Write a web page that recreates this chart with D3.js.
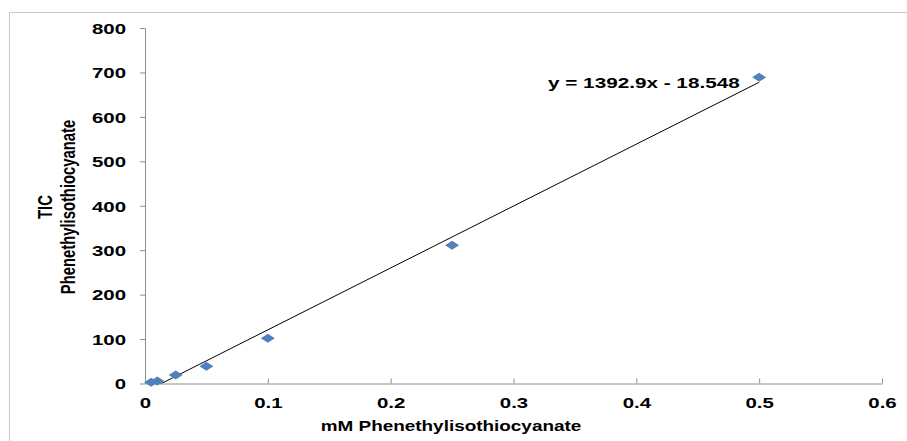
<!DOCTYPE html>
<html>
<head>
<meta charset="utf-8">
<script src="https://cdn.jsdelivr.net/npm/d3@7"></script>
<style>
  body { margin: 0; background: #fff; }
  text { font-family: "Liberation Sans", Arial, sans-serif; font-weight: bold; fill: #000; }
</style>
</head>
<body>
<svg id="chart" width="907" height="441"></svg>
<script>
// data
const concentrations = [0.005, 0.01, 0.025, 0.05, 0.1, 0.25, 0.5];
const ticValues = [3, 5.5, 19, 39, 102, 311, 689];
const xTickValues = [0, 0.1, 0.2, 0.3, 0.4, 0.5, 0.6];
const yTickValues = [0, 100, 200, 300, 400, 500, 600, 700, 800];
const slope = 1392.9;
const intercept = -18.548;
const equationText = "y = 1392.9x - 18.548";
const xTitle = "mM Phenethylisothiocyanate";
const yTitleLines = ["TIC", "Phenethylisothiocyanate"];

const width = 907, height = 441;
const margin = { top: 28, right: 25, bottom: 57.5, left: 145 };
const plotW = width - margin.left - margin.right;
const plotH = height - margin.top - margin.bottom;
const axisColor = "#8e8e8e";
const stretch = 1.38; // the source image is wider than tall

const svg = d3.select("#chart");

// outer chart frame (cut off at right and bottom)
svg.append("rect")
  .attr("x", 9.5).attr("y", 12.5)
  .attr("width", 1200).attr("height", 1200)
  .attr("fill", "none").attr("stroke", "#c8c8c8");

const g = svg.append("g").attr("transform", `translate(${margin.left},${margin.top})`);

const x = d3.scaleLinear().domain([0, 0.6]).range([0, plotW]);
const y = d3.scaleLinear().domain([0, 800]).range([plotH, 0]);

// axes
const xAxis = d3.axisBottom(x).tickValues(xTickValues).tickSizeInner(-5).tickSizeOuter(0)
  .tickFormat(d => d === 0 ? "0" : d3.format(".1f")(d));
const xg = g.append("g").attr("transform", `translate(0,${plotH})`).call(xAxis);
xg.select(".domain").attr("stroke", axisColor);
xg.selectAll(".tick line").attr("stroke", axisColor);
xg.selectAll(".tick text")
  .attr("y", 0).attr("dy", null)
  .attr("transform", `translate(0,24.5) scale(${stretch},1)`)
  .style("font-size", "14.8px");

const yAxis = d3.axisLeft(y).tickValues(yTickValues).tickSizeInner(5).tickSizeOuter(0);
const yg = g.append("g").call(yAxis);
yg.select(".domain").attr("stroke", axisColor);
yg.selectAll(".tick line").attr("stroke", axisColor);
yg.selectAll(".tick text")
  .attr("x", 0).attr("dy", "0.36em")
  .attr("transform", `translate(-19,0) scale(${stretch},1)`)
  .style("font-size", "14.8px");

// trendline, clipped to the plot area
g.append("clipPath").attr("id", "plotClip")
  .append("rect").attr("width", plotW).attr("height", plotH);

const xExtent = d3.extent(concentrations);
g.append("line")
  .attr("clip-path", "url(#plotClip)")
  .attr("x1", x(xExtent[0])).attr("y1", y(slope * xExtent[0] + intercept))
  .attr("x2", x(xExtent[1])).attr("y2", y(slope * xExtent[1] + intercept))
  .attr("stroke", "#000").attr("stroke-width", 1);

// diamond markers
const points = concentrations.map((c, i) => ({ c, v: ticValues[i] }));
g.selectAll("path.pt")
  .data(points)
  .join("path")
  .attr("class", "pt")
  .attr("d", "M0,-4.5L7,0L0,4.5L-7,0Z")
  .attr("transform", d => `translate(${x(d.c)},${y(d.v)})`)
  .attr("fill", "#4f81bd");

// regression equation
svg.append("text")
  .attr("transform", `translate(548,88) scale(1.48,1)`)
  .style("font-size", "14px")
  .text(equationText);

// axis titles
svg.append("text")
  .attr("text-anchor", "middle")
  .attr("transform", `translate(451,431) scale(1.27,1)`)
  .style("font-size", "14.9px")
  .text(xTitle);

const yTitleX = [52, 75];
yTitleLines.forEach((line, i) => {
  svg.append("text")
    .attr("text-anchor", "middle")
    .attr("transform", `translate(${yTitleX[i]},207) rotate(-90) scale(1,1.4)`)
    .style("font-size", "14.8px")
    .text(line);
});
</script>
</body>
</html>
